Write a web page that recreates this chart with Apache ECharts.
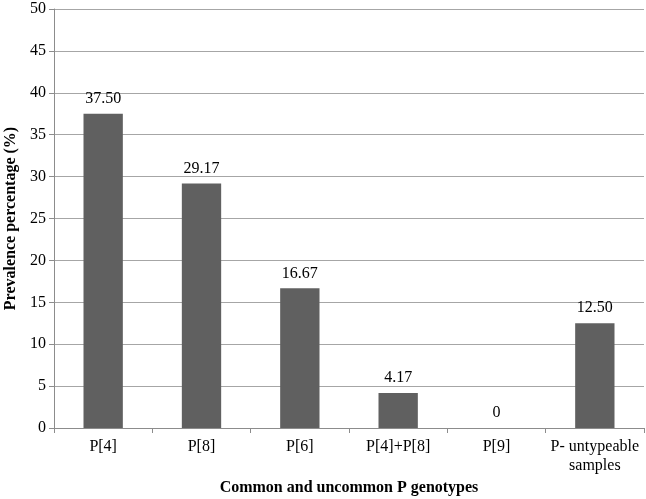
<!DOCTYPE html>
<html><head><meta charset="utf-8">
<script src="https://cdn.jsdelivr.net/npm/echarts@6/dist/echarts.min.js"></script>
<style>html,body{margin:0;padding:0;background:#fff}#c{width:646px;height:499px}</style>
</head><body><div id="c"></div>
<script>
var categories = ['P[4]', 'P[8]', 'P[6]', 'P[4]+P[8]', 'P[9]', 'P- untypeable\nsamples'];
var values = [37.50, 29.17, 16.67, 4.17, 0, 12.50];
var yTicks = {min: 0, max: 50, interval: 5};
var xTitle = 'Common and uncommon P genotypes';
var yTitle = 'Prevalence percentage (%)';

var font = 'Liberation Serif';
var chart = echarts.init(document.getElementById('c'), null, {renderer: 'canvas'});
chart.setOption({
  animation: false,
  backgroundColor: '#fff',
  grid: {left: 54, right: 2, top: 9, bottom: 71, containLabel: false, outerBoundsMode: 'none'},
  xAxis: {
    type: 'category', data: categories,
    name: xTitle, nameLocation: 'middle', nameGap: 52,
    nameTextStyle: {fontFamily: font, fontSize: 16, fontWeight: 'bold', color: '#000'},
    axisLine: {lineStyle: {color: '#8c8c8c', width: 1}},
    axisTick: {show: true, length: 5, alignWithLabel: false, lineStyle: {color: '#8c8c8c'}},
    axisLabel: {fontFamily: font, fontSize: 16, color: '#000', margin: 9, interval: 0, lineHeight: 19}
  },
  yAxis: {
    type: 'value', min: yTicks.min, max: yTicks.max, interval: yTicks.interval,
    name: yTitle, nameLocation: 'middle', nameGap: 33,
    nameTextStyle: {fontFamily: font, fontSize: 16, fontWeight: 'bold', color: '#000'},
    axisLine: {show: true, lineStyle: {color: '#8c8c8c', width: 1}},
    axisTick: {show: true, length: 5, lineStyle: {color: '#8c8c8c'}},
    axisLabel: {fontFamily: font, fontSize: 16, color: '#000', margin: 8},
    splitLine: {show: true, lineStyle: {color: '#a6a6a6', width: 1}}
  },
  series: [{
    type: 'bar', data: values, barWidth: '40%',
    itemStyle: {color: '#606060'},
    label: {
      show: true, position: 'top', distance: 7,
      fontFamily: font, fontSize: 16, color: '#000',
      formatter: function (p) { return p.value === 0 ? '0' : p.value.toFixed(2); }
    }
  }]
});
</script></body></html>
